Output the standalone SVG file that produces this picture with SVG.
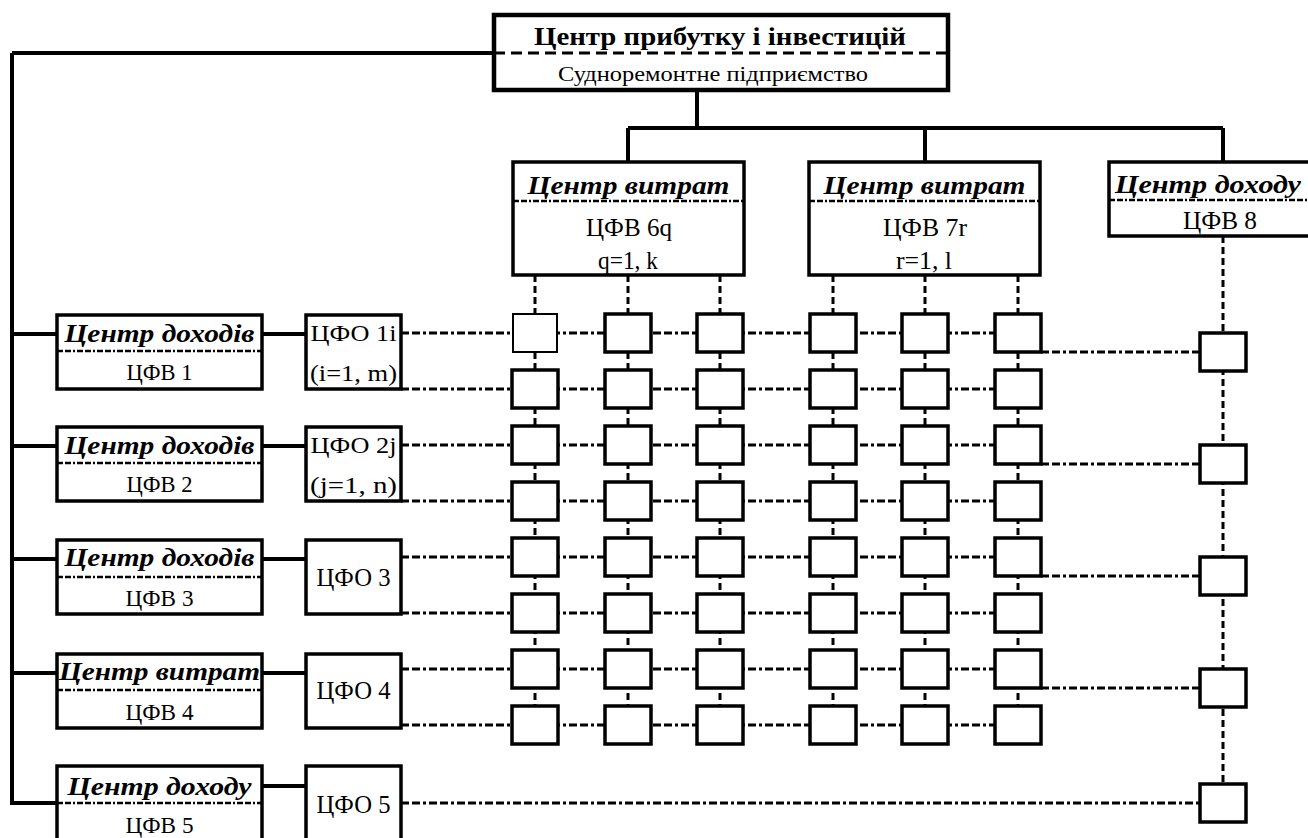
<svg xmlns="http://www.w3.org/2000/svg" width="1308" height="838" viewBox="0 0 1308 838">
<style>
.bg{fill:#fff}
.box{fill:#fff;stroke:#000;stroke-width:3.5}
.top{fill:#fff;stroke:#000;stroke-width:4.5}
.cell{fill:#fff;stroke:#000;stroke-width:3.5}
.thin{fill:#fff;stroke:#000;stroke-width:2}
.div{stroke:#000;stroke-width:2.5;stroke-dasharray:6,2,6,2,2,2;fill:none}
.divtop{stroke:#000;stroke-width:3;stroke-dasharray:11,6;fill:none}
.solid{stroke:#000;stroke-width:4;fill:none}
.dash{stroke:#000;stroke-width:3;stroke-dasharray:8,3,8,3,3,3;fill:none}
.vdash{stroke:#000;stroke-width:3;stroke-dasharray:7,4;fill:none}
text{font-family:"Liberation Serif","Times New Roman",serif;fill:#000;text-anchor:middle}
.bt{font-weight:bold;font-size:26px}
.bi{font-weight:bold;font-style:italic;font-size:26px}
.bil{font-weight:bold;font-style:italic;font-size:25px}
.n{font-size:25px}
.nl{font-size:26px}
.ns{font-size:23px}
.sub{font-size:21px}
</style>
<rect class="bg" x="0" y="0" width="1308" height="838"/>

<g id="connectors">
  <path class="solid" d="M12,53 H494 M12,53 V803 H57 M12,334 H57 M12,446 H57 M12,559 H57 M12,673 H57"/>
  <path class="solid" d="M262,334 H306 M262,446 H306 M262,559 H306 M262,673 H306 M262,786 H306"/>
  <path class="solid" d="M697,90 V128 M628,128 H1223 M628,128 V162 M925,128 V162 M1223,128 V162"/>
  <path class="dash" d="M401,333 H1000 M401,389 H1000 M401,445 H1000 M401,501 H1000 M401,557 H1000 M401,613 H1000 M401,669 H1000 M401,725 H1000"/>
  <path class="vdash" d="M535,275 V706 M628,275 V706 M720,275 V706 M833,275 V706 M925,275 V706 M1018,275 V706"/>
  <path class="vdash" d="M1223,236 V784"/>
  <path class="dash" d="M1041,352 H1200 M1041,464 H1200 M1041,576 H1200 M1041,688 H1200 M401,803 H1200"/>
</g>

<g id="center-profit">
  <rect class="top" x="494" y="15" width="454" height="75"/>
  <line class="divtop" x1="494" y1="53" x2="948" y2="53"/>
  <text class="bt" x="720" y="45" textLength="372" lengthAdjust="spacingAndGlyphs">Центр прибутку і інвестицій</text>
  <text class="sub" x="713" y="81" textLength="310" lengthAdjust="spacingAndGlyphs">Судноремонтне підприємство</text>
</g>

<g id="cfv6">
  <rect class="box" x="513" y="162" width="231" height="113"/>
  <line class="div" x1="513" y1="201" x2="744" y2="201"/>
  <text class="bi" x="628.5" y="194" textLength="202" lengthAdjust="spacingAndGlyphs">Центр витрат</text>
  <text class="n" x="629" y="236" textLength="86" lengthAdjust="spacingAndGlyphs">ЦФВ 6q</text>
  <text class="n" x="628" y="269" textLength="60" lengthAdjust="spacingAndGlyphs">q=1, k</text>
</g>
<g id="cfv7">
  <rect class="box" x="809" y="162" width="231" height="113"/>
  <line class="div" x1="809" y1="201" x2="1040" y2="201"/>
  <text class="bi" x="924.5" y="194" textLength="202" lengthAdjust="spacingAndGlyphs">Центр витрат</text>
  <text class="n" x="925" y="236" textLength="84" lengthAdjust="spacingAndGlyphs">ЦФВ 7r</text>
  <text class="n" x="924" y="269" textLength="56" lengthAdjust="spacingAndGlyphs">r=1, l</text>
</g>
<g id="cfv8">
  <rect class="box" x="1109" y="162" width="215" height="74"/>
  <line class="div" x1="1109" y1="200" x2="1308" y2="200"/>
  <text class="bi" x="1208" y="193" textLength="186" lengthAdjust="spacingAndGlyphs">Центр доходу</text>
  <text class="n" x="1220" y="229" textLength="74" lengthAdjust="spacingAndGlyphs">ЦФВ 8</text>
</g>

<g id="cfv1">
  <rect class="box" x="57" y="315" width="205" height="74"/>
  <line class="div" x1="57" y1="351" x2="262" y2="351"/>
  <text class="bil" x="159.5" y="342" textLength="190" lengthAdjust="spacingAndGlyphs">Центр доходів</text>
  <text class="ns" x="159.5" y="380" textLength="66" lengthAdjust="spacingAndGlyphs">ЦФВ 1</text>
</g>
<g id="cfv2">
  <rect class="box" x="57" y="427" width="205" height="74"/>
  <line class="div" x1="57" y1="463" x2="262" y2="463"/>
  <text class="bil" x="159.5" y="454" textLength="190" lengthAdjust="spacingAndGlyphs">Центр доходів</text>
  <text class="ns" x="159.5" y="492" textLength="66" lengthAdjust="spacingAndGlyphs">ЦФВ 2</text>
</g>
<g id="cfv3">
  <rect class="box" x="57" y="540" width="205" height="74"/>
  <line class="div" x1="57" y1="577" x2="262" y2="577"/>
  <text class="bil" x="159.5" y="566" textLength="190" lengthAdjust="spacingAndGlyphs">Центр доходів</text>
  <text class="ns" x="159.5" y="606" textLength="68" lengthAdjust="spacingAndGlyphs">ЦФВ 3</text>
</g>
<g id="cfv4">
  <rect class="box" x="57" y="654" width="205" height="74"/>
  <line class="div" x1="57" y1="690" x2="262" y2="690"/>
  <text class="bil" x="159.5" y="680" textLength="201" lengthAdjust="spacingAndGlyphs">Центр витрат</text>
  <text class="ns" x="159.5" y="720" textLength="68" lengthAdjust="spacingAndGlyphs">ЦФВ 4</text>
</g>
<g id="cfv5">
  <rect class="box" x="57" y="766" width="205" height="82"/>
  <line class="div" x1="57" y1="803" x2="262" y2="803"/>
  <text class="bil" x="159.5" y="795" textLength="184" lengthAdjust="spacingAndGlyphs">Центр доходу</text>
  <text class="ns" x="159.5" y="833" textLength="68" lengthAdjust="spacingAndGlyphs">ЦФВ 5</text>
</g>

<g id="cfo1">
  <rect class="box" x="306" y="315" width="95" height="74"/>
  <text class="ns" x="353.5" y="341" textLength="86" lengthAdjust="spacingAndGlyphs">ЦФО 1i</text>
  <text class="ns" x="353.5" y="381" textLength="87" lengthAdjust="spacingAndGlyphs">(i=1, m)</text>
</g>
<g id="cfo2">
  <rect class="box" x="306" y="427" width="95" height="74"/>
  <text class="ns" x="353.5" y="453" textLength="86" lengthAdjust="spacingAndGlyphs">ЦФО 2j</text>
  <text class="ns" x="353.5" y="493" textLength="87" lengthAdjust="spacingAndGlyphs">(j=1, n)</text>
</g>
<g id="cfo3">
  <rect class="box" x="306" y="540" width="95" height="74"/>
  <text class="nl" x="353.5" y="586" textLength="74" lengthAdjust="spacingAndGlyphs">ЦФО 3</text>
</g>
<g id="cfo4">
  <rect class="box" x="306" y="654" width="95" height="74"/>
  <text class="nl" x="353.5" y="699" textLength="74" lengthAdjust="spacingAndGlyphs">ЦФО 4</text>
</g>
<g id="cfo5">
  <rect class="box" x="306" y="766" width="95" height="82"/>
  <text class="nl" x="353.5" y="813" textLength="74" lengthAdjust="spacingAndGlyphs">ЦФО 5</text>
</g>

<g id="grid">
  <g id="c-1-1"><rect class="thin" x="513" y="314" width="44" height="38"/></g>
  <g id="c-1-2"><rect class="cell" x="605" y="314" width="46" height="38"/></g>
  <g id="c-1-3"><rect class="cell" x="697" y="314" width="46" height="38"/></g>
  <g id="c-1-4"><rect class="cell" x="810" y="314" width="46" height="38"/></g>
  <g id="c-1-5"><rect class="cell" x="902" y="314" width="46" height="38"/></g>
  <g id="c-1-6"><rect class="cell" x="995" y="314" width="46" height="38"/></g>
  <g id="c-2-1"><rect class="cell" x="512" y="370" width="46" height="38"/></g>
  <g id="c-2-2"><rect class="cell" x="605" y="370" width="46" height="38"/></g>
  <g id="c-2-3"><rect class="cell" x="697" y="370" width="46" height="38"/></g>
  <g id="c-2-4"><rect class="cell" x="810" y="370" width="46" height="38"/></g>
  <g id="c-2-5"><rect class="cell" x="902" y="370" width="46" height="38"/></g>
  <g id="c-2-6"><rect class="cell" x="995" y="370" width="46" height="38"/></g>
  <g id="c-3-1"><rect class="cell" x="512" y="426" width="46" height="38"/></g>
  <g id="c-3-2"><rect class="cell" x="605" y="426" width="46" height="38"/></g>
  <g id="c-3-3"><rect class="cell" x="697" y="426" width="46" height="38"/></g>
  <g id="c-3-4"><rect class="cell" x="810" y="426" width="46" height="38"/></g>
  <g id="c-3-5"><rect class="cell" x="902" y="426" width="46" height="38"/></g>
  <g id="c-3-6"><rect class="cell" x="995" y="426" width="46" height="38"/></g>
  <g id="c-4-1"><rect class="cell" x="512" y="482" width="46" height="38"/></g>
  <g id="c-4-2"><rect class="cell" x="605" y="482" width="46" height="38"/></g>
  <g id="c-4-3"><rect class="cell" x="697" y="482" width="46" height="38"/></g>
  <g id="c-4-4"><rect class="cell" x="810" y="482" width="46" height="38"/></g>
  <g id="c-4-5"><rect class="cell" x="902" y="482" width="46" height="38"/></g>
  <g id="c-4-6"><rect class="cell" x="995" y="482" width="46" height="38"/></g>
  <g id="c-5-1"><rect class="cell" x="512" y="538" width="46" height="38"/></g>
  <g id="c-5-2"><rect class="cell" x="605" y="538" width="46" height="38"/></g>
  <g id="c-5-3"><rect class="cell" x="697" y="538" width="46" height="38"/></g>
  <g id="c-5-4"><rect class="cell" x="810" y="538" width="46" height="38"/></g>
  <g id="c-5-5"><rect class="cell" x="902" y="538" width="46" height="38"/></g>
  <g id="c-5-6"><rect class="cell" x="995" y="538" width="46" height="38"/></g>
  <g id="c-6-1"><rect class="cell" x="512" y="594" width="46" height="38"/></g>
  <g id="c-6-2"><rect class="cell" x="605" y="594" width="46" height="38"/></g>
  <g id="c-6-3"><rect class="cell" x="697" y="594" width="46" height="38"/></g>
  <g id="c-6-4"><rect class="cell" x="810" y="594" width="46" height="38"/></g>
  <g id="c-6-5"><rect class="cell" x="902" y="594" width="46" height="38"/></g>
  <g id="c-6-6"><rect class="cell" x="995" y="594" width="46" height="38"/></g>
  <g id="c-7-1"><rect class="cell" x="512" y="650" width="46" height="38"/></g>
  <g id="c-7-2"><rect class="cell" x="605" y="650" width="46" height="38"/></g>
  <g id="c-7-3"><rect class="cell" x="697" y="650" width="46" height="38"/></g>
  <g id="c-7-4"><rect class="cell" x="810" y="650" width="46" height="38"/></g>
  <g id="c-7-5"><rect class="cell" x="902" y="650" width="46" height="38"/></g>
  <g id="c-7-6"><rect class="cell" x="995" y="650" width="46" height="38"/></g>
  <g id="c-8-1"><rect class="cell" x="512" y="706" width="46" height="38"/></g>
  <g id="c-8-2"><rect class="cell" x="605" y="706" width="46" height="38"/></g>
  <g id="c-8-3"><rect class="cell" x="697" y="706" width="46" height="38"/></g>
  <g id="c-8-4"><rect class="cell" x="810" y="706" width="46" height="38"/></g>
  <g id="c-8-5"><rect class="cell" x="902" y="706" width="46" height="38"/></g>
  <g id="c-8-6"><rect class="cell" x="995" y="706" width="46" height="38"/></g>
</g>

<g id="right-column">
  <g id="r-1"><rect class="cell" x="1200" y="333" width="46" height="38"/></g>
  <g id="r-2"><rect class="cell" x="1200" y="445" width="46" height="38"/></g>
  <g id="r-3"><rect class="cell" x="1200" y="557" width="46" height="38"/></g>
  <g id="r-4"><rect class="cell" x="1200" y="669" width="46" height="38"/></g>
  <g id="r-5"><rect class="cell" x="1200" y="784" width="46" height="38"/></g>
</g>
</svg>
